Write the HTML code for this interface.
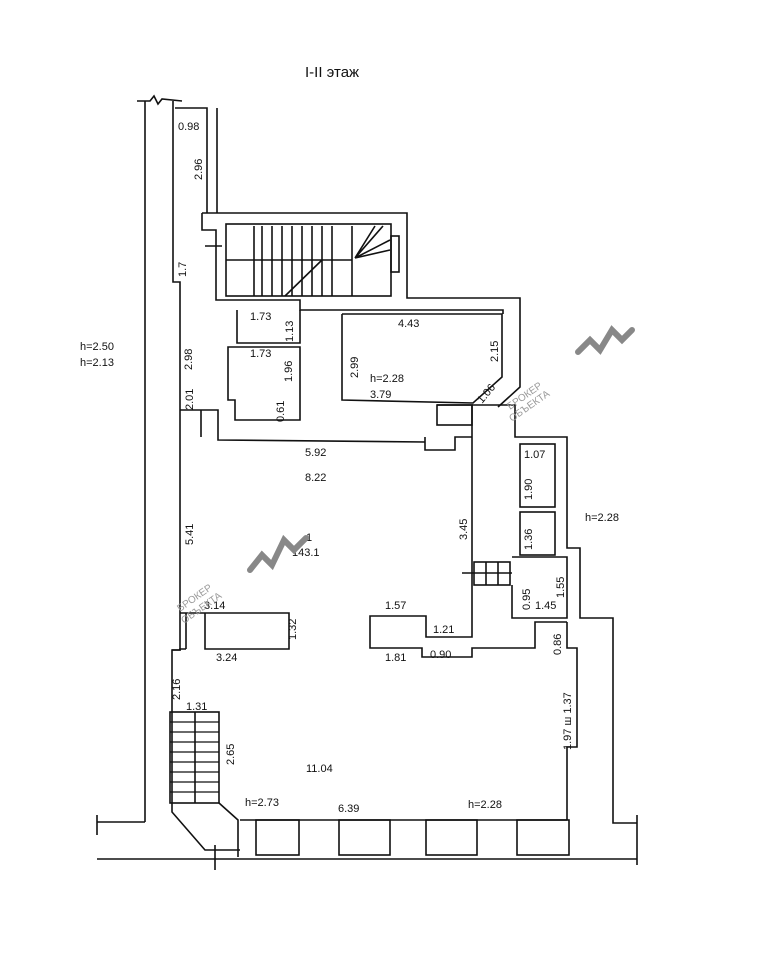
<!DOCTYPE html>
<html><head><meta charset="utf-8"><style>
html,body{margin:0;padding:0;background:#fff}
svg{display:block}
text{font-family:"Liberation Sans",sans-serif;font-size:11px;fill:#111}
</style></head><body>
<svg width="774" height="960" viewBox="0 0 774 960" xmlns="http://www.w3.org/2000/svg">
<rect width="774" height="960" fill="#fff"/>
<g fill="none" stroke="#111" stroke-width="1.6">
<polyline points="137,101 150,101 154,96 158,104 162,99 182,101"/>
<line x1="145" y1="101" x2="145" y2="822"/>
<polyline points="97,822 145,822"/>
<line x1="97" y1="815" x2="97" y2="835"/>
<polyline points="173,101 173,282 180,282 180,650 172,650 172,812 205,850 240,850"/>
<polyline points="175,108 207,108 207,213"/>
<polyline points="217,108 217,213"/>
<polyline points="202,213 407,213 407,298 520,298 520,387 498,407"/>
<polyline points="202,213 202,230 216,230 216,300 300,300 300,310 503,310 503,314"/>
<rect x="226" y="224" width="165" height="72"/>
<line x1="226" y1="260" x2="352" y2="260"/>
<line x1="254" y1="226" x2="254" y2="296"/>
<line x1="262" y1="226" x2="262" y2="296"/>
<line x1="272" y1="226" x2="272" y2="296"/>
<line x1="282" y1="226" x2="282" y2="296"/>
<line x1="292" y1="226" x2="292" y2="296"/>
<line x1="302" y1="226" x2="302" y2="296"/>
<line x1="312" y1="226" x2="312" y2="296"/>
<line x1="322" y1="226" x2="322" y2="296"/>
<line x1="332" y1="226" x2="332" y2="296"/>
<line x1="352" y1="226" x2="352" y2="296"/>
<polyline points="285,296 322,260"/>
<path d="M355,258 L390,240 M355,258 L383,226 M355,258 L375,226 M355,258 L390,250"/>
<rect x="391" y="236" width="8" height="36"/>
<polyline points="237,310 237,343 300,343 300,310"/>
<polyline points="237,347 300,347 300,420 235,420 235,400 228,400 228,347 237,347"/>
<line x1="205" y1="246" x2="222" y2="246"/>
<polyline points="342,314 502,314 502,377 473,403 342,400 342,314"/>
<polyline points="180,410 218,410 218,440 425,442"/>
<line x1="201" y1="410" x2="201" y2="437"/>
<polyline points="425,437 425,450 455,450 455,437 472,437"/>
<polyline points="437,405 472,405 472,637 426,637 426,616 370,616 370,648 422,648 422,657 472,657 472,648 535,648 535,622 567,622"/>
<rect x="437" y="405" width="35" height="20"/>
<polyline points="472,405 515,405 515,437 567,437 567,548 580,548 580,618 613,618 613,823 637,823"/>
<line x1="637" y1="815" x2="637" y2="865"/>
<rect x="520" y="444" width="35" height="63"/>
<rect x="520" y="512" width="35" height="43"/>
<polyline points="512,557 567,557 567,618 512,618 512,585"/>
<rect x="474" y="562" width="36" height="23"/>
<line x1="486" y1="562" x2="486" y2="585"/><line x1="498" y1="562" x2="498" y2="585"/>
<line x1="462" y1="573" x2="512" y2="573"/>
<polyline points="180,613 289,613 289,649 205,649 205,613"/>
<line x1="186" y1="613" x2="186" y2="649"/>
<polyline points="172,650 180,650 180,649 186,649"/>
<polyline points="567,622 567,648 577,648 577,747 567,747 567,820"/>
<line x1="240" y1="820" x2="567" y2="820"/>
<rect x="170" y="712" width="49" height="91"/>
<line x1="195" y1="712" x2="195" y2="803"/>
<g stroke-width="1.2">
<line x1="170" y1="722" x2="219" y2="722"/><line x1="170" y1="732" x2="219" y2="732"/>
<line x1="170" y1="742" x2="219" y2="742"/><line x1="170" y1="752" x2="219" y2="752"/>
<line x1="170" y1="762" x2="219" y2="762"/><line x1="170" y1="772" x2="219" y2="772"/>
<line x1="170" y1="782" x2="219" y2="782"/><line x1="170" y1="792" x2="219" y2="792"/>
</g>
<polyline points="219,803 238,820 238,857"/>
<rect x="256" y="820" width="43" height="35"/>
<rect x="339" y="820" width="51" height="35"/>
<rect x="426" y="820" width="51" height="35"/>
<rect x="517" y="820" width="52" height="35"/>
<line x1="97" y1="859" x2="637" y2="859"/>
<line x1="215" y1="845" x2="215" y2="870"/>
</g>
<text x="305" y="77" style="font-size:15px">I-II этаж</text>
<text x="178" y="130">0.98</text>
<text x="80" y="350">h=2.50</text>
<text x="80" y="366">h=2.13</text>
<text x="250" y="320">1.73</text>
<text x="250" y="357">1.73</text>
<text x="398" y="327">4.43</text>
<text x="370" y="382">h=2.28</text>
<text x="370" y="398">3.79</text>
<text x="305" y="456">5.92</text>
<text x="305" y="481">8.22</text>
<text x="306" y="541">1</text>
<text x="292" y="556">143.1</text>
<text x="524" y="458">1.07</text>
<text x="585" y="521">h=2.28</text>
<text x="535" y="609">1.45</text>
<text x="204" y="609">3.14</text>
<text x="216" y="661">3.24</text>
<text x="385" y="609">1.57</text>
<text x="433" y="633">1.21</text>
<text x="385" y="661">1.81</text>
<text x="430" y="658">0.90</text>
<text x="186" y="710">1.31</text>
<text x="306" y="772">11.04</text>
<text x="245" y="806">h=2.73</text>
<text x="338" y="812">6.39</text>
<text x="468" y="808">h=2.28</text>
<g font-size="10">
<text transform="translate(202,180) rotate(-90)">2.96</text>
<text transform="translate(186,277) rotate(-90)">1.7</text>
<text transform="translate(192,370) rotate(-90)">2.98</text>
<text transform="translate(193,410) rotate(-90)">2.01</text>
<text transform="translate(293,342) rotate(-90)">1.13</text>
<text transform="translate(292,382) rotate(-90)">1.96</text>
<text transform="translate(284,422) rotate(-90)">0.61</text>
<text transform="translate(358,378) rotate(-90)">2.99</text>
<text transform="translate(498,362) rotate(-90)">2.15</text>
<text transform="translate(482,404) rotate(-50)">1.06</text>
<text transform="translate(467,540) rotate(-90)">3.45</text>
<text transform="translate(193,545) rotate(-90)">5.41</text>
<text transform="translate(532,500) rotate(-90)">1.90</text>
<text transform="translate(532,550) rotate(-90)">1.36</text>
<text transform="translate(530,610) rotate(-90)">0.95</text>
<text transform="translate(564,598) rotate(-90)">1.55</text>
<text transform="translate(561,655) rotate(-90)">0.86</text>
<text transform="translate(296,640) rotate(-90)">1.32</text>
<text transform="translate(180,700) rotate(-90)">2.16</text>
<text transform="translate(234,765) rotate(-90)">2.65</text>
<text transform="translate(571,750) rotate(-90)">1.97 ш 1.37</text>
</g>
<g stroke="#888" stroke-width="6" fill="none" stroke-linecap="round">
<polyline points="578,352 590,340 600,350 612,330 622,340 632,330"/>
<polyline points="250,570 262,555 272,565 284,540 294,550 306,538"/>
</g>
<text transform="translate(510,410) rotate(-35)" style="fill:#999;font-size:10px">БРОКЕР</text>
<text transform="translate(512,422) rotate(-35)" style="fill:#999;font-size:10px">ОБЪЕКТА</text>
<text transform="translate(180,612) rotate(-35)" style="fill:#999;font-size:10px">БРОКЕР</text>
<text transform="translate(184,624) rotate(-35)" style="fill:#999;font-size:10px">ОБЪЕКТА</text>
</svg>
</body></html>
